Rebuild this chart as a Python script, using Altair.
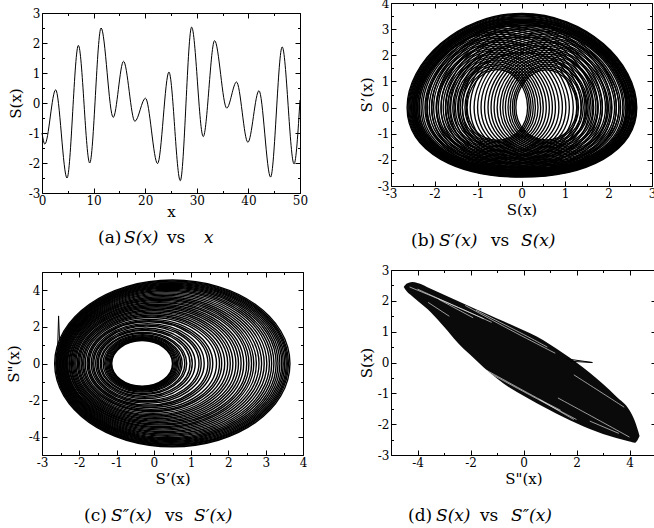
import altair as alt
import pandas as pd

W, H = 654, 528
FONT_LABEL = "DejaVu Serif"
FONT_TITLE = "DejaVu Serif"
FONT_CAP = "DejaVu Serif"

# ---------------- data ----------------
# (a) S(x): value at the start, at every turning point, and at the end
a_x = [0.0, 0.55, 2.65, 4.85, 7.05, 9.25, 11.45, 13.8, 15.8, 18.0, 20.05, 22.4,
       24.6, 26.8, 29.0, 31.25, 33.45, 35.8, 37.7, 39.9, 42.05, 44.3, 46.55, 48.85, 50.0]
a_s = [-1.0, -1.37, 0.44, -2.5, 1.92, -2.0, 2.5, -0.48, 1.39, -0.61, 0.16, -2.02,
       1.03, -2.59, 2.53, -1.12, 2.08, -0.17, 0.7, -1.31, 0.41, -2.47, 1.87, -2.03, 0.1]

# (b) S'(x) vs S(x): extents of each visible loop (left/right turn at S'=0)
b_xmin = [-1.25, -1.36, -1.47, -1.58, -1.69, -1.80, -1.91, -2.02, -2.12, -2.22, -2.31, -2.39, -2.46, -2.52,
          -0.13, -0.21, -0.31, -0.43, -0.56, -0.70, -0.85, -1.01, -1.18, -1.36, -1.55, -1.75, -1.96, -2.17,
          -2.63, -2.61, -2.59, -2.57, -2.55, -2.53, -2.50, -2.48, -2.45, -2.42, -2.39, -2.36,
          -2.20, -1.95, -1.70, -1.45,
          -1.30, -1.41, -1.52, -1.63, -1.74, -1.85, -1.96, -2.07, -2.17, -2.27, -2.35, -2.43, -2.49,
          -0.17, -0.26, -0.37, -0.49, -0.63, -0.77, -0.93, -1.09, -1.27, -1.45, -1.65, -1.85, -2.06]
b_xmax = [0.14, 0.22, 0.32, 0.44, 0.57, 0.71, 0.86, 1.02, 1.19, 1.37, 1.56, 1.76, 1.97, 2.18,
          1.27, 1.38, 1.49, 1.60, 1.71, 1.82, 1.93, 2.04, 2.14, 2.24, 2.33, 2.41, 2.48, 2.54,
          2.65, 2.63, 2.62, 2.60, 2.58, 2.56, 2.54, 2.51, 2.49, 2.46, 2.43, 2.40,
          2.24, 2.00, 1.76, 1.50,
          0.18, 0.27, 0.38, 0.50, 0.64, 0.78, 0.94, 1.10, 1.28, 1.46, 1.66, 1.86, 2.07,
          1.31, 1.42, 1.53, 1.64, 1.75, 1.86, 1.97, 2.08, 2.18, 2.28, 2.36, 2.44, 2.50]
b_ymin = [-1.25, -1.35, -1.45, -1.55, -1.65, -1.75, -1.85, -1.95, -2.05, -2.15, -2.25, -2.35, -2.45, -2.52,
          -1.24, -1.34, -1.44, -1.54, -1.64, -1.74, -1.84, -1.94, -2.04, -2.14, -2.24, -2.34, -2.44, -2.51,
          -2.66, -2.64, -2.62, -2.60, -2.58, -2.56, -2.53, -2.50, -2.47, -2.44, -2.41, -2.38,
          -2.28, -2.12, -1.95, -1.78,
          -1.30, -1.40, -1.50, -1.60, -1.70, -1.80, -1.90, -2.00, -2.10, -2.20, -2.30, -2.40, -2.48,
          -1.29, -1.39, -1.49, -1.59, -1.69, -1.79, -1.89, -1.99, -2.09, -2.19, -2.29, -2.39, -2.47]
b_ymax = [1.45, 1.60, 1.75, 1.90, 2.05, 2.20, 2.35, 2.50, 2.65, 2.80, 2.95, 3.10, 3.25, 3.38,
          1.44, 1.59, 1.74, 1.89, 2.04, 2.19, 2.34, 2.49, 2.64, 2.79, 2.94, 3.09, 3.24, 3.37,
          3.60, 3.57, 3.54, 3.50, 3.47, 3.43, 3.39, 3.35, 3.31, 3.26, 3.21, 3.16,
          3.00, 2.70, 2.40, 2.10,
          1.52, 1.67, 1.82, 1.97, 2.12, 2.27, 2.42, 2.57, 2.72, 2.87, 3.02, 3.17, 3.31,
          1.51, 1.66, 1.81, 1.96, 2.11, 2.26, 2.41, 2.56, 2.71, 2.86, 3.01, 3.16, 3.30]

# (c) S''(x) vs S'(x): extents of each visible loop (left/right turn at S''=0)
c_xmin = [-1.13, -1.15, -1.17, -1.20, -1.23, -1.26, -1.29, -1.32, -1.36,
          -1.41, -1.44, -1.49, -1.52, -1.56, -1.61, -1.64, -1.68, -1.73, -1.76,
          -1.79, -1.84, -1.88, -1.91, -1.95, -1.99, -2.02, -2.05, -2.09, -2.12,
          -2.15, -2.18, -2.21, -2.23, -2.26, -2.28, -2.31, -2.33, -2.35, -2.37, -2.39, -2.41,
          -2.43, -2.45, -2.47, -2.49, -2.51, -2.53, -2.55, -2.57, -2.59, -2.61, -2.63, -2.66]
c_xmax = [0.50, 0.52, 0.55, 0.58, 0.61, 0.64, 0.68, 0.72, 0.76,
          0.83, 0.88, 0.97, 1.03, 1.11, 1.21, 1.27, 1.35, 1.45, 1.51,
          1.58, 1.68, 1.76, 1.82, 1.90, 1.98, 2.05, 2.12, 2.20, 2.27,
          2.34, 2.41, 2.49, 2.55, 2.62, 2.68, 2.75, 2.82, 2.89, 2.96, 3.03, 3.10,
          3.16, 3.22, 3.28, 3.33, 3.38, 3.43, 3.47, 3.51, 3.55, 3.58, 3.61, 3.65]
c_ymax = [1.25, 1.28, 1.31, 1.35, 1.39, 1.43, 1.47, 1.52, 1.57,
          1.65, 1.70, 1.80, 1.86, 1.94, 2.04, 2.10, 2.18, 2.28, 2.34,
          2.41, 2.51, 2.59, 2.65, 2.73, 2.81, 2.88, 2.95, 3.03, 3.10,
          3.17, 3.24, 3.32, 3.38, 3.45, 3.51, 3.58, 3.65, 3.72, 3.79, 3.86, 3.93,
          3.99, 4.05, 4.11, 4.17, 4.22, 4.27, 4.32, 4.37, 4.42, 4.46, 4.51, 4.56]
c_ymin = [-1.24, -1.27, -1.30, -1.34, -1.38, -1.42, -1.46, -1.51, -1.56,
          -1.64, -1.69, -1.79, -1.85, -1.93, -2.03, -2.09, -2.17, -2.27, -2.33,
          -2.40, -2.50, -2.58, -2.64, -2.72, -2.80, -2.87, -2.94, -3.02, -3.09,
          -3.16, -3.23, -3.31, -3.37, -3.44, -3.50, -3.57, -3.64, -3.71, -3.78, -3.85, -3.92,
          -3.98, -4.04, -4.10, -4.16, -4.21, -4.26, -4.31, -4.36, -4.41, -4.45, -4.50, -4.55]
c_spike_x = [-2.58, -2.555, -2.53]
c_spike_y = [0.9, 2.6, 1.3]

# (d) S(x) vs S''(x): the black band's upper and lower edges ...
d_x = [-4.52, -4.4, -4.2, -4.0, -3.5, -3.0, -2.5, -2.0, -1.5, -1.0, -0.5, 0.0,
       0.5, 1.0, 1.5, 2.0, 2.5, 3.0, 3.5, 4.0, 4.2, 4.38]
d_upper = [2.45, 2.56, 2.61, 2.58, 2.39, 2.20, 2.00, 1.81, 1.62, 1.43, 1.24, 1.05,
           0.84, 0.58, 0.30, 0.00, -0.33, -0.70, -1.10, -1.55, -1.90, -2.38]
d_lower = [2.45, 2.30, 2.15, 2.00, 1.63, 1.16, 0.66, 0.24, -0.16, -0.52, -0.83, -1.08,
           -1.32, -1.55, -1.77, -1.97, -2.16, -2.32, -2.45, -2.56, -2.60, -2.38]
# ... and the thin light streaks seen inside it (streak id, S'', S)
d_streak_id = [1, 1, 1, 2, 2, 2, 3, 3, 3, 4, 4, 4, 5, 5, 5, 6, 6, 6, 7, 7, 7, 8, 8, 8,
               9, 9, 10, 10, 11, 11, 12, 12]
d_streak_x = [-4.3, -2.6, -1.2, -4.0, -2.3, -1.5, -2.2, -0.5, 1.2, -1.8, 0.0, 0.9,
              -1.9, 0.0, 2.0, -1.4, 0.5, 1.4, 1.3, 2.8, 4.0, 1.9, 2.9, 3.8,
              -3.6, -2.8, 2.5, 3.6, -3.2, -1.9, 0.6, 1.9]
d_streak_y = [2.45, 1.85, 1.30, 2.38, 1.72, 1.42, 1.85, 1.05, 0.30, 1.70, 0.92, 0.50,
              -0.05, -0.95, -1.85, -0.25, -1.15, -1.55, -1.15, -1.85, -2.42, -0.40, -0.95, -1.45,
              1.95, 1.50, -1.90, -2.30, 2.05, 1.45, -1.20, -1.85]
d_spike_x = [1.6, 2.6, 1.75]
d_spike_y = [0.12, 0.0, 0.04]

# ---------------- tables for the library ----------------
def ring_table(xmin, xmax, ymin, ymax):
    rows = []
    for i, (x0, x1, y0, y1) in enumerate(zip(xmin, xmax, ymin, ymax)):
        xc = (x0 + x1) / 2
        for k, (px, py) in enumerate([(x1, 0.0), (xc, y1), (x0, 0.0), (xc, y0)]):
            rows.append({"loop": i, "k": k, "x": px, "y": py})
    return pd.DataFrame(rows)


def path_table(xs, ys):
    return pd.DataFrame({"k": list(range(len(xs))), "x": xs, "y": ys})


a_df = pd.DataFrame({"x": a_x, "y": a_s})
b_df = ring_table(b_xmin, b_xmax, b_ymin, b_ymax)
c_df = ring_table(c_xmin, c_xmax, c_ymin, c_ymax)
c_spike = path_table(c_spike_x, c_spike_y)
d_band = pd.DataFrame({"x": d_x, "y": d_upper, "y2": d_lower})
d_streaks = pd.DataFrame({"s": d_streak_id, "x": d_streak_x, "y": d_streak_y})
d_streaks["k"] = range(len(d_streaks))
d_spike = path_table(d_spike_x, d_spike_y)
dummy = pd.DataFrame({"x": [0.0], "y": [0.0]})


def frange(a, b, step):
    out, v = [], a
    while v <= b + 1e-9:
        out.append(round(v, 3))
        v += step
    return out

# ---------------- axes helpers ----------------
def label_axis(orient, offset, values, title, title_pos):
    kw = dict(orient=orient, offset=offset, values=values, ticks=False, tickSize=0,
              domain=True, domainColor="black", domainWidth=1,
              labelExpr="'' + datum.value", labelFont=FONT_LABEL, labelFontSize=12,
              labelColor="black", labelPadding=2, labelOverlap=False,
              labelFlush=False, labelBound=False, grid=False,
              title=title, titleFont=FONT_TITLE, titleFontSize=15, titleFontWeight="normal",
              titleColor="black")
    if orient == "bottom":
        kw.update(titleBaseline="alphabetic", titleY=title_pos)
    else:
        kw.update(titleBaseline="middle", titleX=title_pos)
    return alt.Axis(**kw)


def tick_axis(orient, offset, values, size, domain):
    return alt.Axis(orient=orient, offset=offset, values=values, ticks=True, tickSize=size,
                    tickColor="black", tickWidth=1, domain=domain, domainColor="black",
                    domainWidth=1, labels=False, grid=False, title=None)


def panel(p, data_layers):
    xl, xr = p["xr"]
    yb, yt = p["yr"]
    xs = alt.Scale(domain=p["xdom"], range=[xl, xr], nice=False, zero=False)
    ys = alt.Scale(domain=p["ydom"], range=[yb, yt], nice=False, zero=False)
    out = []
    for i, (ch, extra) in enumerate(data_layers):
        if i == 0:
            xa = label_axis("bottom", yb - H, p["xlab"], p["xtitle"], p["xtitle_pos"])
            ya = label_axis("left", -xl, p["ylab"], p["ytitle"], p["ytitle_pos"])
        else:
            xa = None
            ya = None
        enc = dict(x=alt.X("x:Q", scale=xs, axis=xa), y=alt.Y("y:Q", scale=ys, axis=ya))
        enc.update(extra)
        out.append(ch.encode(**enc))
    sets = [
        (("top", -yb, p["xmaj"], 5, False), ("right", xl - W, p["ymaj"], 5, False)),
        (("top", -yb, p["xmin"], 2.5, False), ("right", xl - W, p["ymin"], 2.5, False)),
        (("bottom", yt - H, p["xmaj"], 5, True), ("left", -xr, p["ymaj"], 5, True)),
        (("bottom", yt - H, p["xmin"], 2.5, False), ("left", -xr, p["ymin"], 2.5, False)),
    ]
    for xa, ya in sets:
        out.append(alt.Chart(dummy).mark_point(opacity=0).encode(
            x=alt.X("x:Q", scale=xs, axis=tick_axis(*xa)),
            y=alt.Y("y:Q", scale=ys, axis=tick_axis(*ya))))
    return out


def loop_mark(width):
    return dict(color="black", strokeWidth=width, interpolate="cardinal-closed", tension=-0.66)


pa = dict(xdom=[0, 50], ydom=[-3, 3], xr=[42, 300], yr=[193, 13],
          xlab=frange(0, 50, 10), xmaj=frange(0, 50, 10), xmin=frange(5, 45, 10),
          ylab=frange(-3, 3, 1), ymaj=frange(-3, 3, 1), ymin=frange(-2.5, 2.5, 1),
          xtitle="x", xtitle_pos=23, ytitle="S(x)", ytitle_pos=-27)
pb = dict(xdom=[-3, 3], ydom=[-3, 4], xr=[391, 652], yr=[186, 3],
          xlab=frange(-3, 3, 1), xmaj=frange(-3, 3, 1), xmin=frange(-2.5, 2.5, 1),
          ylab=frange(-3, 4, 1), ymaj=frange(-3, 4, 1), ymin=frange(-2.5, 3.5, 1),
          xtitle="S(x)", xtitle_pos=28, ytitle="S\u2019(x)", ytitle_pos=-25)
pc = dict(xdom=[-3, 4], ydom=[-5, 5], xr=[42, 303], yr=[455, 272],
          xlab=frange(-3, 4, 1), xmaj=frange(-3, 4, 1), xmin=frange(-2.5, 3.5, 1),
          ylab=frange(-4, 4, 2), ymaj=frange(-4, 4, 2), ymin=frange(-5, 5, 2),
          xtitle="S\u2019(x)", xtitle_pos=28, ytitle="S\"(x)", ytitle_pos=-29)
pd_ = dict(xdom=[-5, 5], ydom=[-3, 3], xr=[391, 656], yr=[455, 270],
           xlab=frange(-4, 4, 2), xmaj=frange(-4, 4, 2), xmin=frange(-5, 5, 2),
           ylab=frange(-3, 3, 1), ymaj=frange(-3, 3, 1), ymin=frange(-2.5, 2.5, 1),
           xtitle="S\"(x)", xtitle_pos=28, ytitle="S(x)", ytitle_pos=-25)

layers = []
layers += panel(pa, [(alt.Chart(a_df).mark_line(color="black", strokeWidth=1,
                                                 interpolate="monotone"), {})])
layers += panel(pb, [(alt.Chart(b_df).mark_line(**loop_mark(1.35)),
                      dict(detail="loop:N", order="k:Q"))])
layers += panel(pc, [(alt.Chart(c_df).mark_line(**loop_mark(1.4)),
                      dict(detail="loop:N", order="k:Q")),
                     (alt.Chart(c_spike).mark_line(color="black", strokeWidth=1),
                      dict(order="k:Q"))])
layers += panel(pd_, [(alt.Chart(d_band).mark_area(color="#0a0a0a", interpolate="monotone"),
                       dict(y2="y2:Q")),
                      (alt.Chart(d_streaks).mark_line(color="white", strokeWidth=0.7,
                                                      opacity=0.85, interpolate="basis"),
                       dict(detail="s:N", order="k:Q")),
                      (alt.Chart(d_spike).mark_line(color="black", strokeWidth=1),
                       dict(order="k:Q"))])

# captions: (text, italic, left x, baseline y)
captions = [
    ("(a)", False, 98, 243), ("S(x)", True, 124, 243), ("vs", False, 167, 243), ("x", True, 204, 243),
    ("(b)", False, 411, 246), ("S\u2032(x)", True, 439, 246), ("vs", False, 491, 246), ("S(x)", True, 521, 246),
    ("(c)", False, 84, 521), ("S\u2033(x)", True, 111, 521), ("vs", False, 165, 521), ("S\u2032(x)", True, 194, 521),
    ("(d)", False, 408, 521), ("S(x)", True, 436, 521), ("vs", False, 480, 521), ("S\u2033(x)", True, 511, 521),
]
for text, italic, cx, cy in captions:
    layers.append(alt.Chart(dummy).mark_text(
        text=text, align="left", baseline="alphabetic", font=FONT_CAP, fontSize=17,
        fontStyle="italic" if italic else "normal", color="black"
    ).encode(x=alt.value(cx), y=alt.value(cy)))

chart = alt.layer(*layers).resolve_scale(
    x="independent", y="independent"
).resolve_axis(
    x="independent", y="independent"
).properties(
    width=W, height=H, autosize=alt.AutoSizeParams(type="none"), padding=0
).configure_view(strokeWidth=0)

chart.save("out.html", embed_options={"renderer": "svg", "actions": False})
